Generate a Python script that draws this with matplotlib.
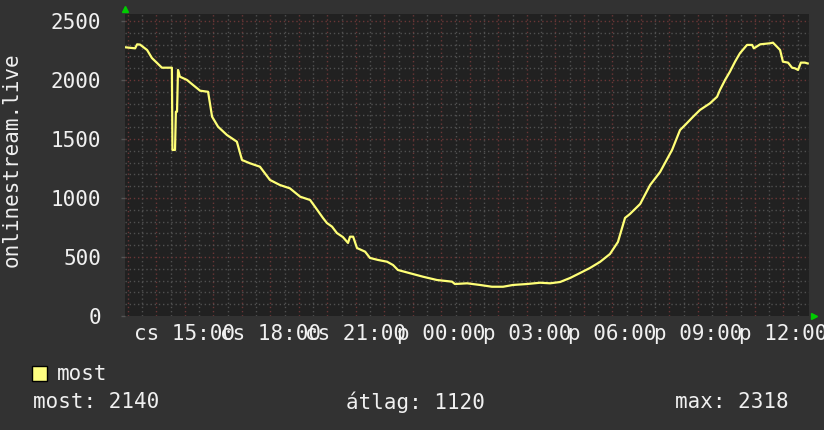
import numpy as np
import matplotlib.pyplot as plt
from matplotlib.patches import Rectangle

# hours since Thursday 00:00, viewers
ora = [12.9, 13.25, 13.32, 13.42, 13.67, 13.84, 14.02, 14.19, 14.54, 14.56, 14.65,
       14.68, 14.72, 14.755, 14.82, 15.07, 15.28, 15.53, 15.81, 15.95, 16.16, 16.47,
       16.82, 17.0, 17.28, 17.63, 17.98, 18.33, 18.68, 18.97, 19.04, 19.39, 19.56,
       19.84, 19.98, 20.16, 20.33, 20.54, 20.72, 20.79, 20.9, 21.035, 21.32, 21.49,
       21.77, 22.09, 22.3, 22.47, 22.9, 23.35, 23.84, 24.37, 24.47, 24.9, 25.35,
       25.77, 26.16, 26.51, 27.0, 27.46, 27.81, 28.16, 28.51, 28.86, 29.21, 29.56,
       29.91, 30.19, 30.44, 30.61, 30.97, 31.32, 31.67, 32.09, 32.37, 32.55, 32.83,
       33.07, 33.42, 33.67, 33.77, 33.95, 34.12, 34.3, 34.47, 34.72, 34.9, 34.96,
       35.18, 35.53, 35.63, 35.77, 35.88, 35.98, 36.16, 36.3, 36.4, 36.51, 36.61,
       36.75, 36.85]
nezok = [2277, 2268, 2302, 2300, 2254, 2186, 2144, 2104, 2104, 1407, 1407,
         1731, 1731, 2085, 2028, 2000, 1958, 1909, 1900, 1689, 1604, 1534,
         1477, 1322, 1294, 1265, 1153, 1110, 1082, 1025, 1011, 983, 926,
         831, 788, 757, 703, 669, 619, 672, 672, 576, 545, 492,
         475, 460, 432, 390, 362, 333, 305, 291, 271, 277, 263,
         248, 248, 263, 271, 282, 277, 288, 322, 364, 407, 458,
         525, 627, 831, 864, 949, 1110, 1220, 1407, 1576, 1619, 1689,
         1746, 1802, 1858, 1915, 2000, 2070, 2155, 2226, 2297, 2297, 2268,
         2302, 2311, 2316, 2282, 2254, 2155, 2147, 2104, 2099, 2085, 2147,
         2147, 2140]

tick_ora = [15, 18, 21, 24, 27, 30, 33, 36]
tick_cimkek = ['cs 15:00', 'cs 18:00', 'cs 21:00', 'p 00:00', 'p 03:00',
               'p 06:00', 'p 09:00', 'p 12:00']
legenda = 'most'
stat = ['most: 2140', 'átlag: 1120', 'max: 2318']

plt.rcParams['font.family'] = ['DejaVu Sans Mono']
szoveg = '#f0f0f0'

fig = plt.figure(figsize=(8.24, 4.30), dpi=100, facecolor='#323232')
ax = fig.add_axes([125/824, 114/430, 684/824, 302/430])
ax.set_facecolor('#212121')

ax.set_xlim(12.895, 36.895)
ax.set_ylim(0, 2559)

# racs
for h in np.arange(13, 37, 0.5):
    szin = '#6a3636' if h % 1 == 0 else '#505050'
    ax.axvline(h, color=szin, lw=1, ls=(0, (1, 2)), zorder=1)
for v in range(100, 2600, 100):
    szin = '#6a3636' if v % 500 == 0 else '#505050'
    ax.axhline(v, color=szin, lw=1, ls=(0, (1, 2)), zorder=1)

ax.plot(ora, nezok, color='#ffff77', lw=1.6, zorder=3)

for s in ax.spines.values():
    s.set_visible(False)

ax.set_xticks(tick_ora)
ax.set_xticklabels(tick_cimkek)
ax.set_yticks([0, 500, 1000, 1500, 2000, 2500])
ax.tick_params(axis='x', length=0, pad=6, labelsize=15, colors=szoveg)
ax.tick_params(axis='y', length=3, width=1, color='#555555', pad=14,
               labelsize=15, colors=szoveg)

# nyilak
ax.plot([0], [1.015], marker='^', color='#00cc00', ms=4, transform=ax.transAxes,
        clip_on=False)
ax.plot([1.008], [0], marker='>', color='#00cc00', ms=4, transform=ax.transAxes,
        clip_on=False)

fig.text(12/824, 1 - 160/430, 'onlinestream.live', rotation=90, fontsize=15,
         color=szoveg, ha='center', va='center')

fig.patches.append(Rectangle((32/824, 1 - 381/430), 15/824, 15/430,
                             transform=fig.transFigure, facecolor='#ffff80',
                             edgecolor='black', lw=1))
fig.text(57/824, 1 - 374/430, legenda, fontsize=15, color=szoveg, va='center')
fig.text(33/824, 1 - 402/430, stat[0], fontsize=15, color=szoveg, va='center')
fig.text(346/824, 1 - 402/430, stat[1], fontsize=15, color=szoveg, va='center')
fig.text(675/824, 1 - 402/430, stat[2], fontsize=15, color=szoveg, va='center')

fig.savefig('out.png', dpi=100, facecolor=fig.get_facecolor())
